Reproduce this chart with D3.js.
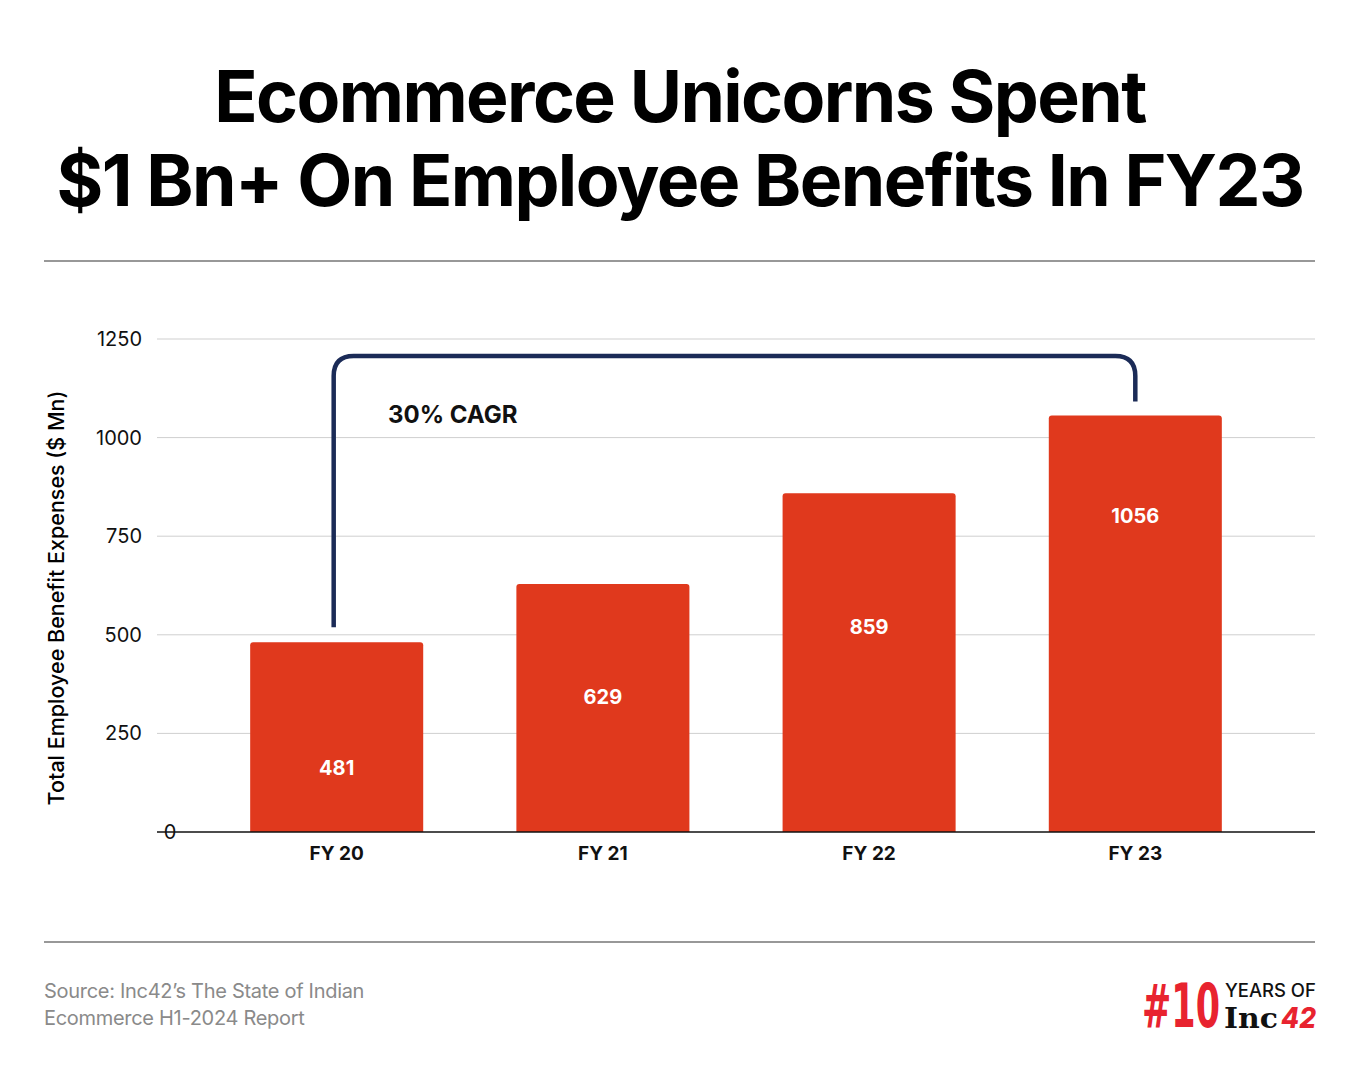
<!DOCTYPE html>
<html>
<head>
<meta charset="utf-8">
<script src="https://cdn.jsdelivr.net/npm/d3@7"></script>
<style>
  body { margin: 0; background: #fff; }
  svg { display: block; font-family: Inter, "Open Sans", sans-serif; }
</style>
</head>
<body>
<svg id="chart"></svg>
<script>
const years = ["FY 20", "FY 21", "FY 22", "FY 23"];
const values = [481, 629, 859, 1056];
// where each value label sits inside its bar, in $ Mn
const labelAnchor = [162, 342, 520, 801];
const yTicks = [0, 250, 500, 750, 1000, 1250];

const W = 1360, H = 1080;
const svg = d3.select("#chart").attr("width", W).attr("height", H);

const x = d3.scaleBand().domain(years).range([157, 1315]).paddingInner(0.35).paddingOuter(0.35);
const y = d3.scaleLinear().domain([0, 1250]).range([832, 339]);

// title
const title = svg.append("text")
    .attr("text-anchor", "middle")
    .attr("font-weight", 700)
    .attr("font-size", 71.5)
    .attr("letter-spacing", -1.6)
    .attr("fill", "#000");
title.append("tspan").attr("x", W / 2).attr("y", 122).text("Ecommerce Unicorns Spent");
title.append("tspan").attr("x", W / 2).attr("y", 206).text("$1 Bn+ On Employee Benefits In FY23");

// separators
[261, 942].forEach(yy => {
    svg.append("line")
       .attr("x1", 44).attr("x2", 1315)
       .attr("y1", yy).attr("y2", yy)
       .attr("stroke", "#333").attr("stroke-width", 1.2);
});

// gridlines
svg.selectAll(".grid")
    .data(yTicks.filter(d => d > 0))
    .enter().append("line")
    .attr("x1", 157).attr("x2", 1315)
    .attr("y1", d => y(d)).attr("y2", d => y(d))
    .attr("stroke", "#cfcfcf").attr("stroke-width", 1);

// y tick labels
svg.selectAll(".ytick")
    .data(yTicks)
    .enter().append("text")
    .attr("x", d => d === 0 ? 170 : 142)
    .attr("y", d => y(d) + 7)
    .attr("text-anchor", d => d === 0 ? "middle" : "end")
    .attr("font-size", 20)
    .attr("fill", "#111")
    .text(d => d);

// y axis title
svg.append("text")
    .attr("transform", `translate(64,598) rotate(-90)`)
    .attr("text-anchor", "middle")
    .attr("font-size", 21.5)
    .attr("font-weight", 500)
    .attr("fill", "#000")
    .text("Total Employee Benefit Expenses ($ Mn)");

// bars
svg.selectAll(".bar")
    .data(values)
    .enter().append("path")
    .attr("fill", "#E0391D")
    .attr("d", (d, i) => {
        const x0 = x(years[i]), w = x.bandwidth(), t = y(d), b = y(0), r = 3;
        return `M${x0},${b}V${t + r}Q${x0},${t} ${x0 + r},${t}H${x0 + w - r}Q${x0 + w},${t} ${x0 + w},${t + r}V${b}Z`;
    });

// value labels
svg.selectAll(".val")
    .data(values)
    .enter().append("text")
    .attr("x", (d, i) => x(years[i]) + x.bandwidth() / 2)
    .attr("y", (d, i) => y(labelAnchor[i]) + 7)
    .attr("text-anchor", "middle")
    .attr("font-size", 20)
    .attr("font-weight", 700)
    .attr("fill", "#fff")
    .text(d => d);

// baseline
svg.append("line")
    .attr("x1", 157).attr("x2", 1315)
    .attr("y1", y(0)).attr("y2", y(0))
    .attr("stroke", "#111").attr("stroke-width", 1.3);

// x labels
svg.selectAll(".xl")
    .data(years)
    .enter().append("text")
    .attr("x", d => x(d) + x.bandwidth() / 2)
    .attr("y", 860)
    .attr("text-anchor", "middle")
    .attr("font-size", 19)
    .attr("font-weight", 700)
    .attr("fill", "#111")
    .text(d => d);

// CAGR bracket from FY20 to FY23
const bx0 = x(years[0]) + x.bandwidth() / 2 - 3;
const bx1 = x(years[3]) + x.bandwidth() / 2;
const by = y(1207), r = 20;
svg.append("path")
    .attr("fill", "none")
    .attr("stroke", "#1B2B57")
    .attr("stroke-width", 4.5)
    .attr("d", `M${bx0},${y(values[0]) - 15}V${by + r}Q${bx0},${by} ${bx0 + r},${by}` +
               `H${bx1 - r}Q${bx1},${by} ${bx1},${by + r}V${y(values[3]) - 14}`);

svg.append("text")
    .attr("x", 388).attr("y", 423)
    .attr("font-size", 24)
    .attr("font-weight", 700)
    .attr("fill", "#111")
    .text("30% CAGR");

// source
const src = svg.append("text")
    .attr("font-size", 20)
    .attr("fill", "#8a8a8a")
    .attr("letter-spacing", -0.3);
src.append("tspan").attr("x", 44).attr("y", 998).text("Source: Inc42\u2019s The State of Indian");
src.append("tspan").attr("x", 44).attr("y", 1025).text("Ecommerce H1-2024 Report");

// logo: each piece squeezed horizontally to fit its slot
function logoText(txt, x0, y0, width, attrs) {
    const g = svg.append("g");
    const t = g.append("text").text(txt);
    Object.entries(attrs).forEach(([k, v]) => t.attr(k, v));
    const natural = t.node().getComputedTextLength();
    g.attr("transform", `translate(${x0},${y0}) scale(${width / natural},1)`);
}
logoText("#10", 1142, 1027, 78, {
    "font-family": "'DejaVu Sans', sans-serif", "font-size": 60, "font-weight": 700, fill: "#E8232F"
});
logoText("YEARS OF", 1225, 997, 91, {
    "font-size": 18, "font-weight": 500, fill: "#111"
});
logoText("Inc", 1224, 1028, 54, {
    "font-family": "'DejaVu Serif', 'Liberation Serif', serif", "font-size": 27, "font-weight": 700, fill: "#111"
});
logoText("42", 1281, 1028, 35, {
    "font-size": 28, "font-weight": 800, "font-style": "italic", fill: "#E8232F"
});
</script>
</body>
</html>
